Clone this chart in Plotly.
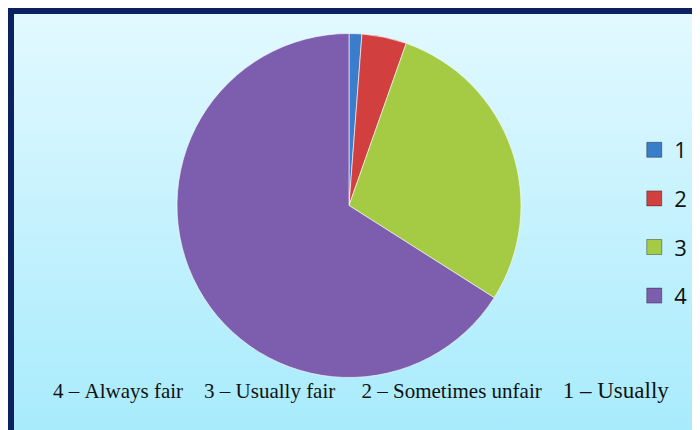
import plotly.graph_objects as go

labels = ["1", "2", "3", "4"]
values = [1.2, 4.2, 28.6, 66.0]
colors = ["#3A7DCB", "#D23F3F", "#A5CB45", "#7D5EAE"]
caption_parts = ["4 – Always fair", "3 – Usually fair", "2 – Sometimes unfair", "1 – Usually"]

# the page body adds an 8px offset, so the figure is 8px smaller than the window
W, H = 692, 422

fig = go.Figure()

# background panel with a vertical gradient
fig.add_trace(go.Scatter(
    x=[0, 1.1, 1.1, 0, 0], y=[-0.1, -0.1, 1, 1, -0.1],
    mode="lines", fill="toself", line=dict(width=0),
    fillgradient=dict(type="vertical",
                      colorscale=[[0, "#A2EAFC"], [1, "#E3F9FF"]]),
    hoverinfo="skip", showlegend=False,
))

fig.add_trace(go.Pie(
    labels=labels, values=values,
    marker=dict(colors=colors, line=dict(color="rgba(255,255,255,0.6)", width=1)),
    sort=False, direction="clockwise", rotation=0,
    textinfo="none", showlegend=False,
    domain=dict(x=[169 / W, 513 / W], y=[52 / H, 397 / H]),
))

# legend entries
for lab, col in zip(labels, colors):
    fig.add_trace(go.Scatter(
        x=[None], y=[None], mode="markers", name=lab, legendgroup=lab,
        marker=dict(symbol="square", size=15, color=col,
                    line=dict(color="rgba(0,0,0,0.35)", width=1)),
    ))

gaps = ["\u00a0" * 4, "\u00a0" * 5, "\u00a0" * 4]
caption = caption_parts[0]
for g, part in zip(gaps, caption_parts[1:-1]):
    caption += g + part
caption += gaps[-1] + "<span style='font-size:23px'>" + caption_parts[-1] + "</span>"
caption = caption.replace(" ", "\u00a0").replace("<span\u00a0", "<span ")

fig.add_annotation(
    text=caption, xref="paper", yref="paper",
    x=353 / W, y=1 - 397 / H, showarrow=False,
    font=dict(family="Liberation Serif", size=21, color="#111111"),
)

# frame
fig.add_shape(type="rect", xref="paper", yref="paper",
              x0=3 / W, x1=1.05, y0=-0.05, y1=1 - 3 / H,
              line=dict(color="#0B2160", width=6), fillcolor="rgba(0,0,0,0)")

fig.update_layout(
    width=W, height=H,
    margin=dict(l=0, r=0, t=0, b=0),
    paper_bgcolor="white", plot_bgcolor="rgba(0,0,0,0)",
    xaxis=dict(visible=False, range=[0, 1], domain=[0, 1], fixedrange=True),
    yaxis=dict(visible=False, range=[0, 1], domain=[0, 1], fixedrange=True),
    showlegend=True,
    legend=dict(x=0.905, xanchor="left", y=1 - 215 / H, yanchor="middle",
                bgcolor="rgba(0,0,0,0)", tracegroupgap=17,
                font=dict(family="Open Sans", size=22, color="#111111")),
)

fig.write_html("out.html")
